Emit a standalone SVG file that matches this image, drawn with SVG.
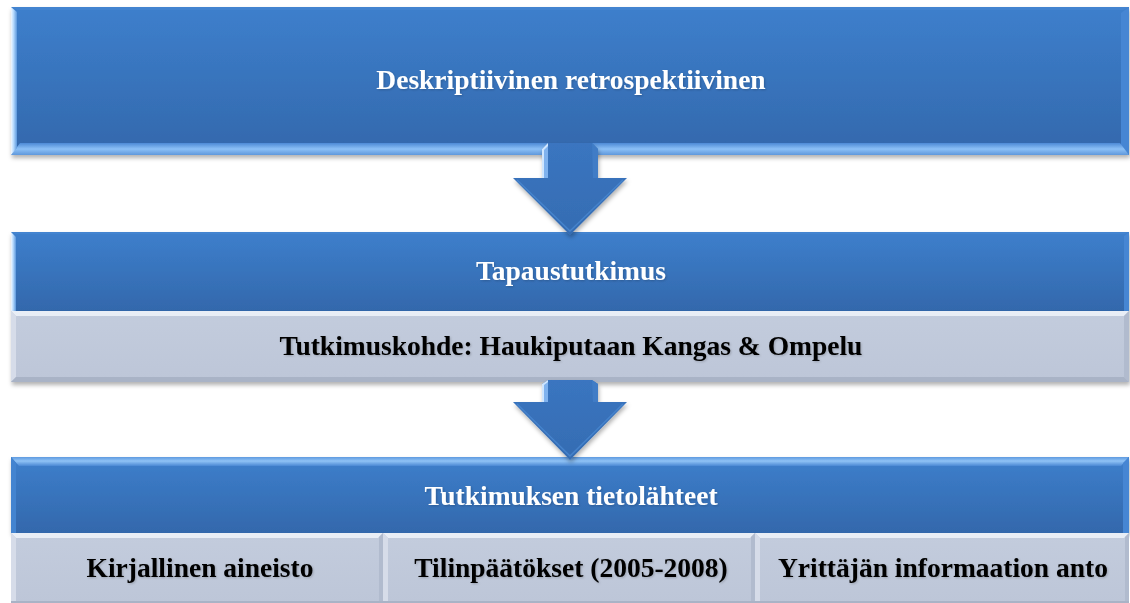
<svg xmlns="http://www.w3.org/2000/svg" width="1130" height="603" viewBox="0 0 1130 603">
<defs>
<style>
.bt{font-family:"Liberation Serif","Times New Roman",serif;font-weight:bold;font-size:27.5px;fill:#ffffff;text-anchor:middle}
.gt{font-family:"Liberation Serif","Times New Roman",serif;font-weight:bold;font-size:27.5px;fill:#000000;text-anchor:middle}
.blue{fill:url(#gBlue)}
.gray{fill:url(#gGray)}
.lbev{fill:url(#gLeft)}
.rbev{fill:#4686d3}
.tbev{fill:#4384d0}
.bbev{fill:url(#gBottom)}
.tbevHi{fill:url(#gTopHi)}
.gl{fill:#d6dce9}
.gr{fill:#b1bbce}
.gtop{fill:#e9eef6}
.gbot{fill:#a9b3c6}
.arrow{fill:url(#gArrow)}
</style>
<linearGradient id="gBlue" x1="0" y1="0" x2="0" y2="1">
<stop offset="0" stop-color="#3d7fcc"/>
<stop offset="1" stop-color="#3368ac"/>
</linearGradient>
<linearGradient id="gGray" x1="0" y1="0" x2="0" y2="1">
<stop offset="0" stop-color="#c3ccdd"/>
<stop offset="1" stop-color="#bdc6d8"/>
</linearGradient>
<linearGradient id="gLeft" x1="0" y1="0" x2="1" y2="0">
<stop offset="0" stop-color="#f2f8ff"/>
<stop offset="0.4" stop-color="#b9dcff"/>
<stop offset="1" stop-color="#5b97dc"/>
</linearGradient>
<linearGradient id="gBottom" x1="0" y1="0" x2="0" y2="1">
<stop offset="0" stop-color="#4d8ad6"/>
<stop offset="0.5" stop-color="#8cc0f6"/>
<stop offset="1" stop-color="#5f98dc"/>
</linearGradient>
<linearGradient id="gTopHi" x1="0" y1="0" x2="0" y2="1">
<stop offset="0" stop-color="#5e9ae0"/>
<stop offset="0.45" stop-color="#8fc2f5"/>
<stop offset="1" stop-color="#4a88d4"/>
</linearGradient>
<linearGradient id="gArrow" x1="0" y1="0" x2="0" y2="1">
<stop offset="0" stop-color="#3a75c0"/>
<stop offset="1" stop-color="#356cb2"/>
</linearGradient>
<filter id="sh" x="-5%" y="-10%" width="110%" height="130%">
<feDropShadow dx="1" dy="3" stdDeviation="2" flood-color="#000" flood-opacity="0.3"/>
</filter>
<filter id="tsh" x="-5%" y="-20%" width="110%" height="150%">
<feDropShadow dx="1" dy="1" stdDeviation="0.8" flood-color="#000" flood-opacity="0.2"/>
</filter>
</defs>
<rect width="1130" height="603" fill="#ffffff"/>

<g id="node-deskriptiivinen">
<rect x="11" y="7" width="1118" height="148" class="blue" filter="url(#sh)"/>
<polygon points="11,7 1129,7 1123,10 17,10" class="tbev"/>
<polygon points="1129,7 1129,155 1121,147 1121,13" class="rbev"/>
<polygon points="11,155 20,143 1120,143 1129,155" class="bbev"/>
<polygon points="11,7 17,12 17,148 11,155" class="lbev"/>
<text x="571" y="89" class="bt" filter="url(#tsh)">Deskriptiivinen retrospektiivinen</text>
</g>

<g id="node-tapaustutkimus">
<rect x="11" y="232" width="1118" height="79" class="blue" filter="url(#sh)"/>
<polygon points="11,232 1129,232 1125,234 15,234" class="tbev"/>
<polygon points="1129,232 1129,311 1124,311 1124,236" class="rbev"/>
<polygon points="11,232 16,237 16,311 11,311" class="lbev"/>
<text x="571" y="280" class="bt" filter="url(#tsh)">Tapaustutkimus</text>
</g>

<g id="node-tutkimuskohde">
<rect x="11" y="311" width="1118" height="71" class="gray" filter="url(#sh)"/>
<polygon points="11,311 1129,311 1124,316 16,316" class="gtop"/>
<polygon points="11,311 16,316 16,377 11,382" class="gl"/>
<polygon points="1129,311 1129,382 1124,377 1124,316" class="gr"/>
<polygon points="11,382 16,377 1124,377 1129,382" class="gbot"/>
<text x="571" y="355" class="gt" filter="url(#tsh)">Tutkimuskohde: Haukiputaan Kangas &amp; Ompelu</text>
</g>

<g id="node-tietolahteet">
<rect x="11" y="457" width="1118" height="76" class="blue" filter="url(#sh)"/>
<polygon points="11,457 1129,457 1121,466 19,466" class="tbevHi"/>
<polygon points="1129,457 1129,533 1123,533 1123,463" class="rbev"/>
<polygon points="11,457 16,463 16,533 11,533" class="tbev"/>
<text x="571" y="505" class="bt" filter="url(#tsh)">Tutkimuksen tietolähteet</text>
</g>

<g id="node-kirjallinen">
<rect x="11" y="533" width="372" height="70" class="gray"/>
<polygon points="11,533 383,533 378,538 16,538" class="gtop"/>
<polygon points="11,533 16,538 16,603 11,603" class="gl"/>
<polygon points="383,533 383,603 379,603 379,537" class="gr"/>
<rect x="11" y="601" width="372" height="2" class="gbot"/>
<text x="200" y="577" class="gt" filter="url(#tsh)">Kirjallinen aineisto</text>
</g>

<g id="node-tilinpaatokset">
<rect x="383" y="533" width="372" height="70" class="gray"/>
<polygon points="383,533 755,533 750,538 388,538" class="gtop"/>
<polygon points="383,533 388,538 388,603 383,603" class="gl"/>
<polygon points="755,533 755,603 751,603 751,537" class="gr"/>
<rect x="383" y="601" width="372" height="2" class="gbot"/>
<text x="571" y="577" class="gt" filter="url(#tsh)">Tilinpäätökset (2005-2008)</text>
</g>

<g id="node-yrittaja">
<rect x="755" y="533" width="374" height="70" class="gray"/>
<polygon points="755,533 1129,533 1124,538 760,538" class="gtop"/>
<polygon points="755,533 760,538 760,603 755,603" class="gl"/>
<polygon points="1129,533 1129,603 1125,603 1125,537" class="gr"/>
<rect x="755" y="601" width="374" height="2" class="gbot"/>
<text x="943" y="577" class="gt" filter="url(#tsh)">Yrittäjän informaation anto</text>
</g>

<g id="connectors">
<g id="arrow-1" filter="url(#sh)">
<path d="M548,143 L592,143 L598,149 L598,178 L627,178 L570,235 L513,178 L542,178 L542,149 Z" class="arrow"/>
<polygon points="542,149 548,143 548,178 542,178" fill="#cfe6ff"/>
<polygon points="544,150 548,146 548,178 544,178" fill="#7fb2ee"/>
<polygon points="592,143 598,149 598,178 593,178" fill="#3f7cc6"/>
<polyline points="517,180 570,231 623,180" fill="none" stroke="#4583cc" stroke-width="1.5"/>
</g>
<g id="arrow-2" filter="url(#sh)">
<path d="M548,380 L592,380 L598,384 L598,402 L627,402 L570,460 L513,402 L542,402 L542,384 Z" class="arrow"/>
<polygon points="542,384 548,380 548,402 542,402" fill="#cfe6ff"/>
<polygon points="544,385 548,382 548,402 544,402" fill="#7fb2ee"/>
<polygon points="592,380 598,384 598,402 593,402" fill="#3f7cc6"/>
<polyline points="517,404 570,456 623,404" fill="none" stroke="#4583cc" stroke-width="1.5"/>
</g>
</g>
</svg>
